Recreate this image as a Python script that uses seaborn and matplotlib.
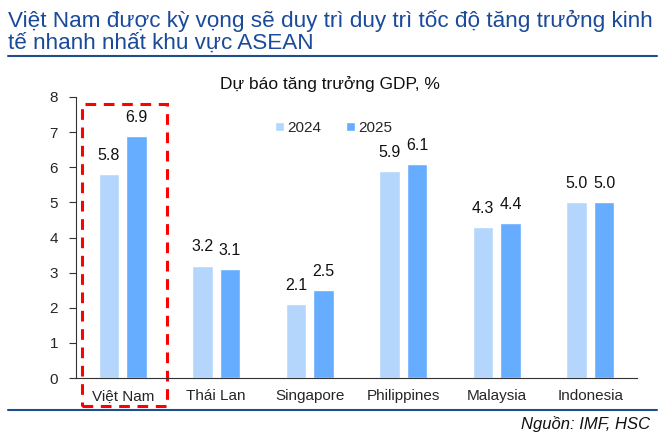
import matplotlib
matplotlib.use("Agg")
import matplotlib.pyplot as plt
import pandas as pd
import seaborn as sns
import numpy as np
from matplotlib.patches import Rectangle
from matplotlib.lines import Line2D

countries = ["Việt Nam", "Thái Lan", "Singapore", "Philippines", "Malaysia", "Indonesia"]
gdp_2024 = [5.8, 3.2, 2.1, 5.9, 4.3, 5.0]
gdp_2025 = [6.9, 3.1, 2.5, 6.1, 4.4, 5.0]
years = ["2024", "2025"]
colors = ["#B4D6FD", "#66ADFF"]
title_blue = "#1A4A9A"


def main():
    df = pd.DataFrame({
        "country": countries * 2,
        "year": [years[0]] * len(countries) + [years[1]] * len(countries),
        "gdp": gdp_2024 + gdp_2025,
    })

    sns.set_style("white")
    plt.rcParams["font.family"] = ["Liberation Sans", "DejaVu Sans"]

    fig = plt.figure(figsize=(6.66, 4.45), dpi=100)
    ax = fig.add_axes([76 / 666, 1 - 378 / 445, (637 - 76) / 666, (378 - 97) / 445])

    sns.barplot(data=df, x="country", y="gdp", hue="year", palette=colors,
                width=0.59, gap=0.25, ax=ax, errorbar=None, saturation=1)

    for cont in ax.containers:
        ax.bar_label(cont, fmt="%.1f", padding=8, fontsize=11.5, color="#111111")

    ax.set_xlim(-0.5, 5.5)
    ax.set_ylim(0, 8)
    ax.set_yticks(range(0, 9))
    ax.set_xlabel("")
    ax.set_ylabel("")
    ax.set_xticks(np.arange(-0.5, 6, 1), minor=True)
    ax.tick_params(axis="x", which="major", length=0, labelsize=11, pad=8)
    ax.tick_params(axis="x", which="minor", length=5, width=0.8, color="#333333")
    ax.tick_params(axis="y", length=5, width=0.8, color="#333333", labelsize=11, pad=8, left=True)
    for s in ["top", "right"]:
        ax.spines[s].set_visible(False)
    for s in ["left", "bottom"]:
        ax.spines[s].set_color("#333333")
        ax.spines[s].set_linewidth(0.8)

    ax.legend(loc="center left", bbox_to_anchor=(0.33, 0.89), ncol=2, frameon=False,
              fontsize=11, handlelength=0.6, handleheight=0.6, handletextpad=0.2,
              columnspacing=1.6)

    # khung đỏ nét đứt quanh Việt Nam
    box = Rectangle((-0.435, -0.8), 0.91, 8.6, fill=False, edgecolor="#FF0000",
                    linewidth=2.2, linestyle=(0, (3.5, 2.5)), clip_on=False)
    ax.add_patch(box)

    fig.text(8 / 666, 1 - 21 / 445, "Việt Nam được kỳ vọng sẽ duy trì duy trì tốc độ tăng trưởng kinh",
             fontsize=16.2, color=title_blue, va="center", ha="left")
    fig.text(8 / 666, 1 - 43 / 445, "tế nhanh nhất khu vực ASEAN",
             fontsize=16.2, color=title_blue, va="center", ha="left")
    fig.add_artist(Line2D([8 / 666, 657 / 666], [1 - 56 / 445, 1 - 56 / 445],
                          color="#1F4E8C", linewidth=1.5))
    fig.text(330 / 666, 1 - 84 / 445, "Dự báo tăng trưởng GDP, %", fontsize=12.5,
             ha="center", va="center", color="#111111")
    fig.add_artist(Line2D([8 / 666, 657 / 666], [1 - 410 / 445, 1 - 410 / 445],
                          color="#1F4E8C", linewidth=1.5))
    fig.text(650 / 666, 1 - 424 / 445, "Nguồn: IMF, HSC", fontsize=12, style="italic",
             ha="right", va="center", color="#111111")

    fig.savefig("out.png", dpi=100)


if __name__ == "__main__":
    main()
